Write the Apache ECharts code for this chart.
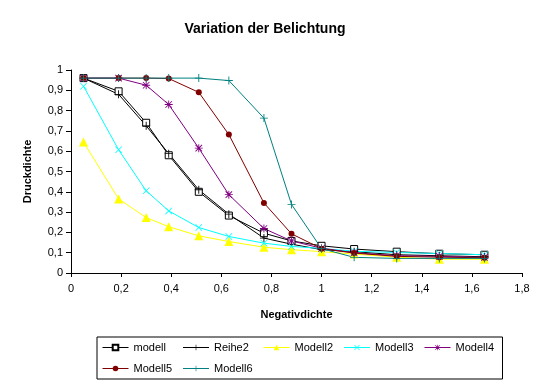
<!DOCTYPE html>
<html>
<head>
<meta charset="utf-8">
<script src="https://cdn.jsdelivr.net/npm/echarts@6/dist/echarts.min.js"></script>
<style>
html,body{margin:0;padding:0;background:#fff;}
#c{width:553px;height:390px;}
</style>
</head>
<body>
<div id="c"></div>
<script>
var xValues = [0.05, 0.19, 0.30, 0.39, 0.51, 0.63, 0.77, 0.88, 1.00, 1.13, 1.30, 1.47, 1.65];
var modell  = [0.96, 0.895, 0.74, 0.58, 0.40, 0.283, 0.196, 0.158, 0.134, 0.118, 0.105, 0.095, 0.09];
var reihe2  = [0.96, 0.88, 0.725, 0.588, 0.41, 0.29, 0.172, 0.142, 0.115, 0.105, 0.09, 0.085, 0.08];
var modell2 = [0.645, 0.365, 0.273, 0.228, 0.183, 0.155, 0.127, 0.115, 0.105, 0.093, 0.078, 0.068, 0.068];
var modell3 = [0.92, 0.607, 0.405, 0.306, 0.224, 0.18, 0.147, 0.131, 0.121, 0.107, 0.101, 0.096, 0.09];
var modell4 = [0.96, 0.96, 0.925, 0.83, 0.615, 0.386, 0.219, 0.158, 0.122, 0.10, 0.085, 0.082, 0.077];
var modell5 = [0.96, 0.96, 0.96, 0.958, 0.89, 0.682, 0.345, 0.193, 0.12, 0.098, 0.082, 0.078, 0.075];
var modell6 = [0.96, 0.96, 0.96, 0.96, 0.96, 0.948, 0.763, 0.338, 0.12, 0.077, 0.072, 0.072, 0.072];
var seriesNames = ['modell', 'Reihe2', 'Modell2', 'Modell3', 'Modell4', 'Modell5', 'Modell6'];
var xTickLabels = ['0', '0,2', '0,4', '0,6', '0,8', '1', '1,2', '1,4', '1,6', '1,8'];
var yTickLabels = ['0', '0,1', '0,2', '0,3', '0,4', '0,5', '0,6', '0,7', '0,8', '0,9', '1'];

function pairs(ys) { return xValues.map(function (x, i) { return [x, ys[i]]; }); }

var PLUS = 'path://M4,0h1v9h-1zM0,4h9v1h-9z';
var CROSS = 'path://M0,0.7L0.7,0L9,8.3L8.3,9zM8.3,0L9,0.7L0.7,9L0,8.3z';
var STAR = 'path://M4,0h1v9h-1zM0,4h9v1h-9zM0.5,1.2L1.2,0.5L8.5,7.8L7.8,8.5zM7.8,0.5L8.5,1.2L1.2,8.5L0.5,7.8z';

var defs = [
  {name: seriesNames[0], data: modell, color: '#000000', symbol: 'rect', size: 7, fill: '#ffffff', bw: 1},
  {name: seriesNames[1], data: reihe2, color: '#000000', symbol: PLUS, size: 8},
  {name: seriesNames[2], data: modell2, color: '#FFFF00', symbol: 'triangle', size: 9},
  {name: seriesNames[3], data: modell3, color: '#00FFFF', symbol: CROSS, size: 7},
  {name: seriesNames[4], data: modell4, color: '#800080', symbol: STAR, size: 8},
  {name: seriesNames[5], data: modell5, color: '#800000', symbol: 'circle', size: 6},
  {name: seriesNames[6], data: modell6, color: '#008080', symbol: PLUS, size: 8}
];

var FONT = '"Liberation Sans", Arial, sans-serif';
var chart = echarts.init(document.getElementById('c'), null, {renderer: 'canvas'});
chart.setOption({
  animation: false,
  backgroundColor: '#ffffff',
  textStyle: {fontFamily: FONT},
  title: {
    text: 'Variation der Belichtung',
    left: 260, top: 17, textAlign: 'center',
    textStyle: {fontFamily: FONT, fontSize: 14, fontWeight: 'bold', color: '#000'}
  },
  grid: {left: 71, right: 31, top: 70, bottom: 117, containLabel: false},
  xAxis: {
    type: 'value', min: 0, max: 1.8, interval: 0.2,
    name: 'Negativdichte', nameLocation: 'middle', nameGap: 36,
    nameTextStyle: {fontFamily: FONT, fontSize: 11, fontWeight: 'bold', color: '#000'},
    axisLine: {show: true, onZero: false, lineStyle: {color: '#000', width: 1}},
    axisTick: {show: true, inside: false, length: 4, lineStyle: {color: '#000'}},
    axisLabel: {
      margin: 10, fontFamily: FONT, fontSize: 11, color: '#000',
      formatter: function (v) { return xTickLabels[Math.round(v / 0.2)]; }
    },
    splitLine: {show: false}
  },
  yAxis: {
    type: 'value', min: 0, max: 1, interval: 0.1,
    name: 'Druckdichte', nameLocation: 'middle', nameGap: 38, nameRotate: 90,
    nameTextStyle: {fontFamily: FONT, fontSize: 11, fontWeight: 'bold', color: '#000'},
    axisLine: {show: true, onZero: false, lineStyle: {color: '#000', width: 1}},
    axisTick: {show: true, inside: false, length: 5, lineStyle: {color: '#000'}},
    axisLabel: {
      margin: 8, fontFamily: FONT, fontSize: 11, color: '#000',
      formatter: function (v) { return yTickLabels[Math.round(v / 0.1)]; }
    },
    splitLine: {show: false}
  },
  legend: {
    left: 97, top: 337, width: 410,
    orient: 'horizontal',
    borderColor: '#000', borderWidth: 1,
    padding: [3, 4, 3, 5],
    itemWidth: 26, itemHeight: 7, itemGap: 6,
    lineStyle: {width: 1},
    textStyle: {fontFamily: FONT, fontSize: 11, color: '#000', width: 43, lineHeight: 15},
    data: seriesNames
  },
  series: defs.map(function (d) {
    return {
      name: d.name, type: 'line', data: pairs(d.data),
      symbol: d.symbol, symbolSize: d.size, showSymbol: true,
      lineStyle: {color: d.color, width: 1},
      itemStyle: {color: d.fill || d.color, borderColor: d.color, borderWidth: d.bw || 0},
      emphasis: {disabled: true}
    };
  })
});
</script>
</body>
</html>
